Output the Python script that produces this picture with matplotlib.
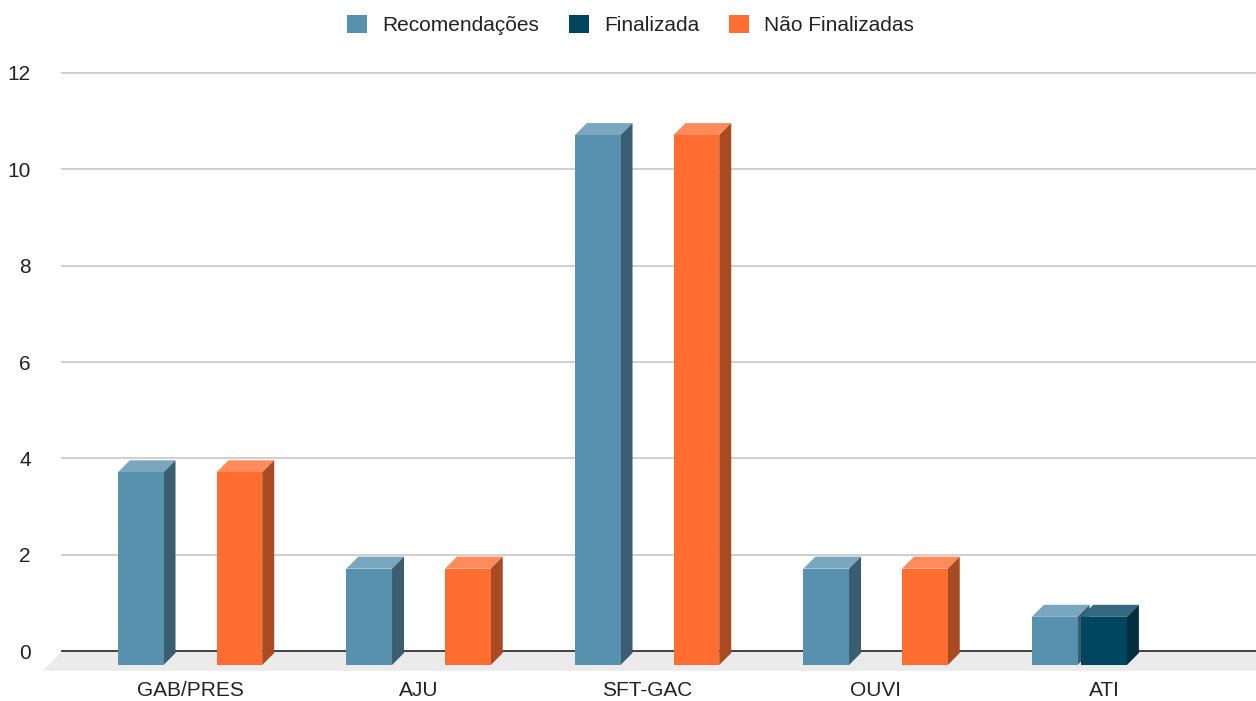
import numpy as np
import matplotlib
matplotlib.use("Agg")
import matplotlib.pyplot as plt
from matplotlib.patches import Polygon, Patch

plt.rcParams['font.family'] = ['Liberation Sans', 'DejaVu Sans']

# dados do grafico
categorias = ['GAB/PRES', 'AJU', 'SFT-GAC', 'OUVI', 'ATI']
series = ['Recomendações', 'Finalizada', 'Não Finalizadas']
recomendacoes = [4, 2, 11, 2, 1]
finalizada = [0, 0, 0, 0, 1]
nao_finalizadas = [4, 2, 11, 2, 0]
yticks = [0, 2, 4, 6, 8, 10, 12]

# cores: frente, topo, lateral
cores = {
    'Recomendações': ('#5891ae', '#7aa7c0', '#3a5e70'),
    'Finalizada': ('#02455f', '#346a80', '#012f40'),
    'Não Finalizadas': ('#ff6d31', '#ff8a5a', '#a84a22'),
}

fig = plt.figure(figsize=(12.56, 7.01), dpi=100)
ax = fig.add_axes([0.0334, 0.0369, 1 - 0.0334, 0.8993 - 0.0369])
ax.set_xlim(-0.648, 4.665)
ax.set_ylim(-0.5, 12.05)

base = -0.29       # base da face frontal (efeito 3D)
dx, dy = 0.0525, 0.25   # profundidade
largura = 0.2
passo = 0.216
x_grid = -0.56

# chao cinza
chao = Polygon([(x_grid - 0.085, -0.41), (4.665 + 0.1, -0.41),
                (4.665 + 0.2, 0.0), (x_grid, 0.0)],
               closed=True, facecolor='#ebebeb', edgecolor='none', zorder=1)
ax.add_patch(chao)

# linhas de grade
for t in yticks[1:]:
    ax.plot([x_grid, 4.665], [t, t], color='#cccccc', lw=1.3, zorder=0)
ax.plot([x_grid, 4.665], [0, 0], color='#333333', lw=1.3, zorder=2)

x = np.arange(len(categorias))
dados = [recomendacoes, finalizada, nao_finalizadas]
z = 3
for i in range(len(categorias)):
    for j, nome in enumerate(series):
        v = dados[j][i]
        if v == 0:
            continue
        frente, topo, lado = cores[nome]
        x0 = x[i] + (j - 1) * passo - largura / 2
        x1 = x0 + largura
        h = base + v
        ax.bar(x0, v, width=largura, bottom=base, align='edge',
               color=frente, zorder=z + 2)
        ax.add_patch(Polygon([(x0, h), (x1, h), (x1 + dx, h + dy), (x0 + dx, h + dy)],
                             closed=True, facecolor=topo, edgecolor='none', zorder=z + 1))
        ax.add_patch(Polygon([(x1, base), (x1, h), (x1 + dx, h + dy), (x1 + dx, base + dy)],
                             closed=True, facecolor=lado, edgecolor='none', zorder=z + 1))
        z += 3

for s in ax.spines.values():
    s.set_visible(False)
ax.set_yticks(yticks)
ax.set_yticklabels([str(t) for t in yticks], fontsize=15, color='#222222')
ax.tick_params(axis='y', length=0, pad=8)
ax.set_xticks(x)
ax.set_xticklabels(categorias, fontsize=15, color='#222222')
ax.tick_params(axis='x', length=0, pad=4)

handles = [Patch(facecolor=cores[n][0], edgecolor='none') for n in series]
fig.legend(handles, series, loc='center', bbox_to_anchor=(0.502, 1 - 25 / 701),
           ncol=3, frameon=False, fontsize=15, handlelength=0.96, handleheight=0.96,
           handletextpad=0.72, columnspacing=1.45, labelcolor='#222222')

fig.savefig('out.png', dpi=100)
